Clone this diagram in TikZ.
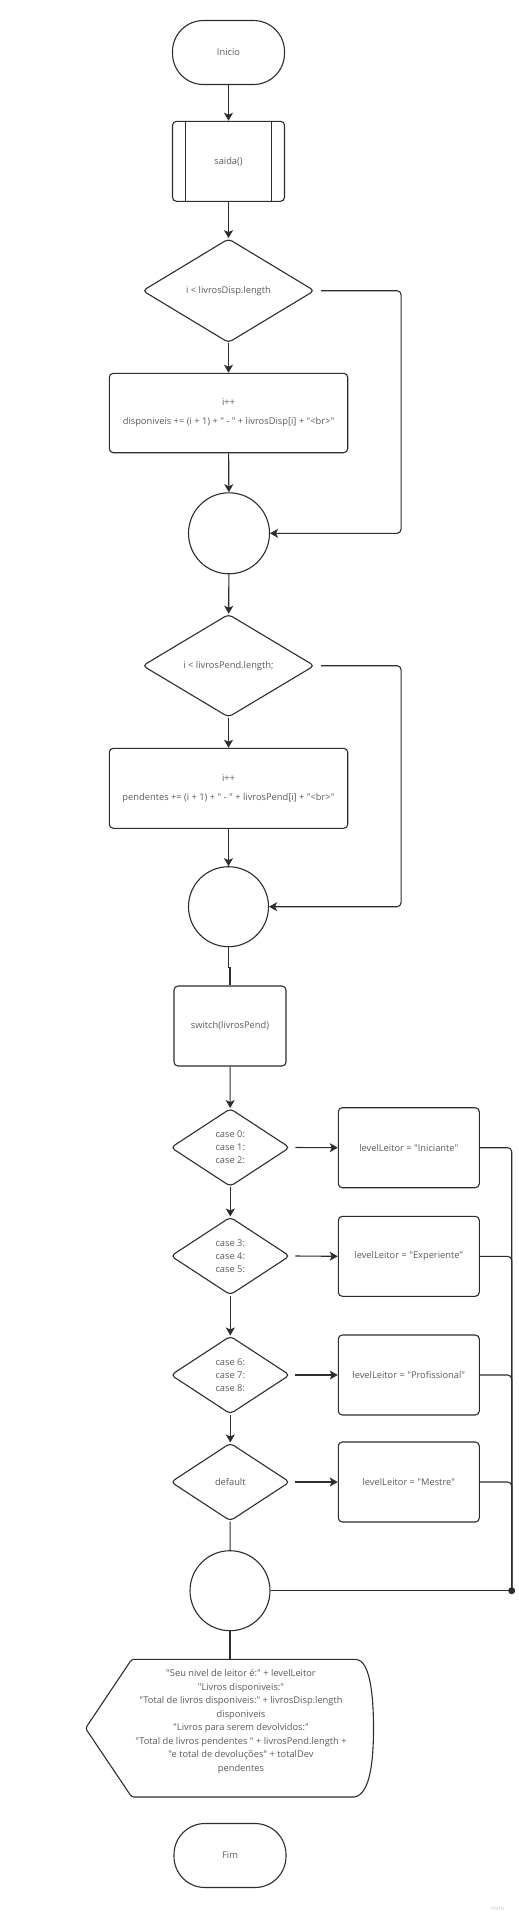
\documentclass[tikz,border=0pt]{standalone}
\usepackage{fontspec}
\setmainfont{Open Sans}[Ligatures=TeXOff]
\usetikzlibrary{shapes.geometric,arrows.meta,calc}
\definecolor{ln}{RGB}{45,45,45}
\definecolor{tx}{RGB}{90,90,90}
\begin{document}
\begin{tikzpicture}[x=1pt,y=-1pt,
  every node/.style={text=tx,font=\fontsize{9.3}{13}\selectfont},
  base/.style={draw=ln,line width=1.1pt},
  term/.style={base,rectangle,rounded corners=31pt,minimum width=112pt,minimum height=64pt,inner sep=0},
  proc/.style={base,rectangle,rounded corners=4pt,inner sep=0,align=center},
  dec/.style={base,diamond,rounded corners=4pt,inner sep=0,align=center,aspect=1.6},
  junc/.style={base,circle,inner sep=0},
  flow/.style={draw=ln,line width=1.1pt,-{Stealth[length=8pt,width=9pt,inset=2pt]}},
  plain/.style={draw=ln,line width=1.1pt},
]
\fill[white] (0,0) rectangle (519,1923);
\useasboundingbox (0,0) rectangle (519,1923);

% top part
\node[term] (ini) at (228.5,52.5) {Inicio};
\node[proc,minimum width=112pt,minimum height=80pt] (saida) at (228.5,161.3) {saida()};
\draw[plain] ([xshift=13.3pt]saida.north west) -- ([xshift=13.3pt]saida.south west);
\draw[plain] ([xshift=-13.3pt]saida.north east) -- ([xshift=-13.3pt]saida.south east);

\node[dec,minimum width=172pt,minimum height=104pt] (d1) at (228.5,290.7) {i < livrosDisp.length};
\node[proc,minimum width=238.4pt,minimum height=79.4pt] (p1) at (228.5,413) {i++\\[6pt]disponiveis += (i + 1) + " - " + livrosDisp[i] + "<br>"};
\node[junc,minimum size=81pt] (c1) at (229,533.3) {};

\node[dec,minimum width=172pt,minimum height=103pt] (d2) at (228.5,665.7) {i < livrosPend.length;};
\node[proc,minimum width=238.4pt,minimum height=80pt] (p2) at (228.5,788.3) {i++\\[6pt]pendentes += (i + 1) + " - " + livrosPend[i] + "<br>"};
\node[junc,minimum size=80pt] (c2) at (228.5,906.7) {};

\node[proc,minimum width=112pt,minimum height=80pt] (sw) at (230,1026) {switch(livrosPend)};

% cases
\node[dec,minimum width=119pt,minimum height=78pt] (k1) at (230.3,1147.5) {case 0:\\case 1:\\case 2:};
\node[proc,minimum width=141pt,minimum height=80pt] (b1) at (408.8,1147.7) {levelLeitor = "Iniciante"};
\node[dec,minimum width=119pt,minimum height=78pt] (k2) at (230.3,1256) {case 3:\\case 4:\\case 5:};
\node[proc,minimum width=141pt,minimum height=80pt] (b2) at (408.8,1256.3) {levelLeitor = "Experiente"};
\node[dec,minimum width=119pt,minimum height=78pt] (k3) at (230.3,1375) {case 6:\\case 7:\\case 8:};
\node[proc,minimum width=141pt,minimum height=80pt] (b3) at (408.8,1375) {levelLeitor = "Profissional"};
\node[dec,minimum width=119pt,minimum height=78pt] (k4) at (230.3,1482) {default};
\node[proc,minimum width=141pt,minimum height=80pt] (b4) at (408.8,1482) {levelLeitor = "Mestre"};

\node[junc,minimum size=80pt] (c3) at (230,1590.7) {};
\coordinate (m) at (511.7,1590.7);

% display
\coordinate (dtop) at (230.7,1659.3);
\draw[plain,rounded corners=2.5pt] (85.5,1728.3) -- (131.7,1659.3) -- (354,1659.3)
  [sharp corners] .. controls (371,1661) and (373.5,1700) .. (373.5,1728.3)
  .. controls (373.5,1757) and (371,1795) .. (354,1797) [rounded corners=2.5pt] -- (131.7,1797) -- cycle;
\node[align=center,font=\fontsize{9.3}{13.5}\selectfont] (dtxt) at (241,1721.5) {"Seu nivel de leitor é:" + levelLeitor\\
"Livros disponiveis:"\\
"Total de livros disponiveis:" + livrosDisp.length\\
disponiveis\\
"Livros para serem devolvidos:"\\
"Total de livros pendentes " + livrosPend.length +\\
"e total de devoluções" + totalDev\\
pendentes};

\node[term] (fim) at (230,1855.5) {Fim};
\node[text=gray!45,font=\fontsize{6}{7}\selectfont] (miro) at (498,1908) {miro};

% connectors
\draw[flow] (ini) -- (saida);
\draw[flow] (saida) -- (d1);
\draw[flow] (d1) -- (p1);
\draw[flow] (p1) -- (c1);
\draw[flow,rounded corners=4pt] ([xshift=6pt]d1.east) -- ++(80,0) |- (c1.east);
\draw[flow] (c1) -- (d2);
\draw[flow] (d2) -- (p2);
\draw[flow] (p2) -- (c2);
\draw[flow,rounded corners=4pt] ([xshift=6pt]d2.east) -- ++(80,0) |- (c2.east);
\draw[plain] (c2.south) -- ++(0,20) -| (sw.north);
\draw[flow] (sw) -- (k1);
\draw[flow] ([xshift=5pt]k1.east) -- (b1.west);
\draw[flow] (k1) -- (k2);
\draw[flow] ([xshift=5pt]k2.east) -- (b2.west);
\draw[flow] (k2) -- (k3);
\draw[flow] ([xshift=5pt]k3.east) -- (b3.west);
\draw[flow] (k3) -- (k4);
\draw[flow] ([xshift=5pt]k4.east) -- (b4.west);
\draw[plain] (k4) -- (c3);
\draw[plain,rounded corners=4pt] (b1.east) -| (m);
\draw[plain,rounded corners=4pt] (b2.east) -| (m);
\draw[plain,rounded corners=4pt] (b3.east) -| (m);
\draw[plain,rounded corners=4pt] (b4.east) -| (m);
\draw[plain] (c3.east) -- (m);
\fill[ln] (m) circle (3.5pt);
\draw[plain] (c3.south) -- (c3.south |- dtop);
\end{tikzpicture}
\end{document}
